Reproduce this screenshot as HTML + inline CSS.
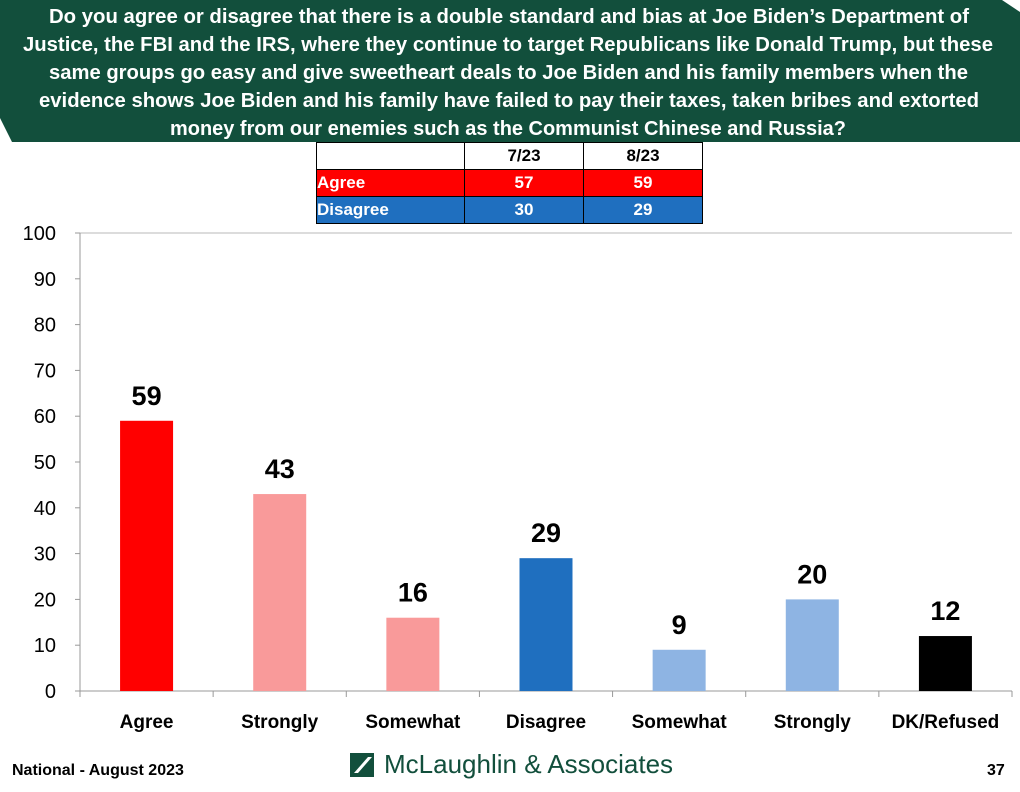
<!DOCTYPE html>
<html><head><meta charset="utf-8"><style>
body{margin:0;width:1020px;height:792px;background:#fff;position:relative;overflow:hidden;font-family:"Liberation Sans",sans-serif}
#hdr{position:absolute;left:0;top:0}
table{position:absolute;left:316px;top:142px;border-collapse:collapse;font-weight:bold;font-size:17px}
td{border:1.5px solid #000;height:26px;padding:0;text-align:center}
.foot{position:absolute;font-weight:bold;font-size:16px}
</style></head><body>
<svg id="hdr" width="1020" height="145"><polygon points="0,0 1002,0 1020,12 1020,142 12,142 0,118" fill="#124f3c"/>
<g fill="#fff" font-weight="bold" font-size="20" font-family="Liberation Sans, sans-serif">
<text x="49" y="23" textLength="920" lengthAdjust="spacingAndGlyphs">Do you agree or disagree that there is a double standard and bias at Joe Biden’s Department of</text>
<text x="23" y="51" textLength="970" lengthAdjust="spacingAndGlyphs">Justice, the FBI and the IRS, where they continue to target Republicans like Donald Trump, but these</text>
<text x="49" y="79" textLength="919" lengthAdjust="spacingAndGlyphs">same groups go easy and give sweetheart deals to Joe Biden and his family members when the</text>
<text x="39" y="107" textLength="940" lengthAdjust="spacingAndGlyphs">evidence shows Joe Biden and his family have failed to pay their taxes, taken bribes and extorted</text>
<text x="170" y="135" textLength="676" lengthAdjust="spacingAndGlyphs">money from our enemies such as the Communist Chinese and Russia?</text>
</g></svg>
<table>
<tr><td style="width:147px;background:#fff"></td><td style="width:118px">7/23</td><td style="width:118px">8/23</td></tr>
<tr style="background:#ff0000;color:#fff"><td style="text-align:left">Agree</td><td>57</td><td>59</td></tr>
<tr style="background:#1f6fbf;color:#fff"><td style="text-align:left">Disagree</td><td>30</td><td>29</td></tr>
</table>
<svg id="chart" width="1020" height="792" style="position:absolute;left:0;top:0"></svg>
<div class="foot" style="left:12px;top:762px">National - August 2023</div>
<div class="foot" style="left:987px;top:762px">37</div>
<div style="position:absolute;left:350px;top:749px;font-size:26px;color:#124f3c;display:flex;align-items:center"><svg width="24" height="24" style="margin-right:10px"><rect width="24" height="24" fill="#124f3c"/><polygon points="4,20 18,4 22,4 8,20" fill="#fff"/></svg>McLaughlin &amp; Associates</div>
<script>
const categories=["Agree","Strongly","Somewhat","Disagree","Somewhat","Strongly","DK/Refused"];
const values=[59,43,16,29,9,20,12];
const colors=["#ff0000","#f99a9a","#f99a9a","#1f6fbf","#8eb4e3","#8eb4e3","#000000"];
const ticks=[0,10,20,30,40,50,60,70,80,90,100];
const svg=document.getElementById('chart');const NS='http://www.w3.org/2000/svg';
const x0=80,x1=1012,y0=691,y1=233,bw=(x1-x0)/categories.length;
const y=v=>y0-(v/100)*(y0-y1);const xc=i=>x0+bw*(i+0.5);
function mk(t,a,txt){const e=document.createElementNS(NS,t);for(const k in a)e.setAttribute(k,a[k]);if(txt!=null)e.textContent=txt;svg.appendChild(e);return e;}
let g=mk('line',{x1:x0,x2:x1,y1:y(100),y2:y(100),stroke:'#d0d0d0','stroke-width':1.5});

let ax=mk('line',{x1:x0,x2:x0,y1:y1,y2:y0,stroke:'#999'});

let bx=mk('line',{x1:x0,x2:x1,y1:y0,y2:y0,stroke:'#999'});

ticks.forEach(t=>{mk('line',{x1:x0-5,x2:x0,y1:y(t),y2:y(t),stroke:'#999'});
const l=mk('text',{x:56,y:y(t)+7,'text-anchor':'end','font-size':20,fill:'#000'},t);
});
for(let i=0;i<=categories.length;i++)mk('line',{x1:x0+bw*i,x2:x0+bw*i,y1:y0,y2:y0+6,stroke:'#999'});
categories.forEach((c,i)=>{
const b=mk('rect',{x:xc(i)-26.5,y:y(values[i]),width:53,height:y0-y(values[i]),fill:colors[i]});

const v=mk('text',{x:xc(i),y:y(values[i])-16,'text-anchor':'middle','font-size':27,'font-weight':'bold'},values[i]);

const l=mk('text',{x:xc(i),y:728,'text-anchor':'middle','font-size':19,'font-weight':'bold'},c);

});
</script>
</body></html>
